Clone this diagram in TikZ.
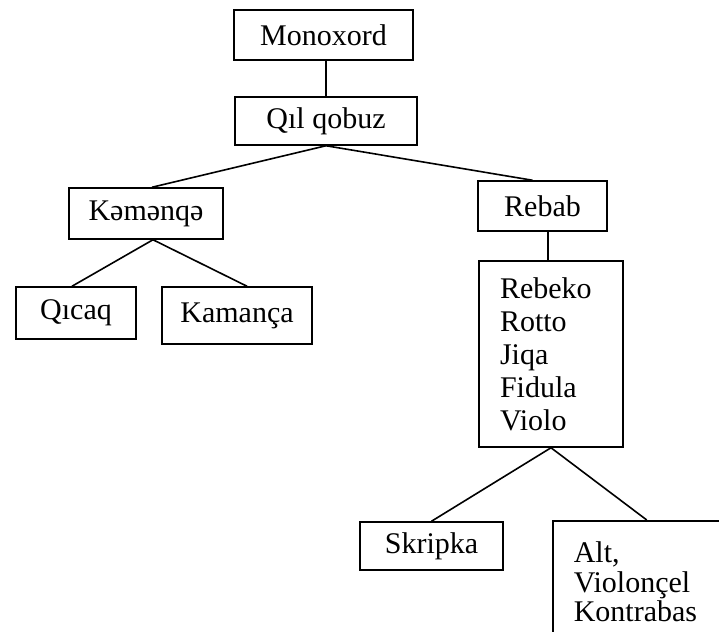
\documentclass[tikz,border=0pt]{standalone}
\usepackage{fontspec}
\setmainfont{Liberation Serif}

\begin{document}
\begin{tikzpicture}[x=1pt, y=-1pt,
    box/.style={draw, line width=1.5pt, inner sep=0pt, font=\fontsize{30}{33}\selectfont},
    link/.style={line width=1.6pt}]
  \clip (0,0) rectangle (719,631);
  % Top of the tree
  \node[box, minimum width=179pt, minimum height=50pt] (mono) at (323.5,35) {Monoxord};
  \node[box, minimum width=182pt, minimum height=48pt] (qil) at (326,121) {Qıl qobuz};
  % Second level
  \node[box, minimum width=154pt, minimum height=51pt] (kem) at (146,213.5) {Kəmənqə};
  \node[box, minimum width=129pt, minimum height=50pt] (rebab) at (542.5,206) {Rebab};
  % Left branch
  \node[box, minimum width=120pt, minimum height=52pt] (qicaq) at (76,313) {Qıcaq};
  \node[box, minimum width=150pt, minimum height=57pt] (kamanca) at (237,315.5) {Kamança};
  % Right branch
  \node[box, minimum width=144pt, minimum height=186pt, text width=102pt, align=left] (rebeko) at (551,354)
    {Rebeko\\Rotto\\Jiqa\\Fidula\\Violo};
  \node[box, minimum width=143pt, minimum height=48pt] (skripka) at (431.5,546) {Skripka};
  \node[box, anchor=north west, minimum width=188pt, minimum height=122pt, text width=146pt, align=left,
    font=\fontsize{30}{29.5}\selectfont] (alt) at (552,520) {Alt,\\Violonçel\\Kontrabas};
  % Connectors
  \draw[link] (qil.north) -- (qil.north |- mono.south);
  \draw[link] (qil.south) -- ([xshift=6pt]kem.north);
  \draw[link] (qil.south) -- ([xshift=-10pt]rebab.north);
  \draw[link] ([xshift=7pt]kem.south) -- ([xshift=-4pt]qicaq.north);
  \draw[link] ([xshift=7pt]kem.south) -- ([xshift=10pt]kamanca.north);
  \draw[link] ([xshift=-3pt]rebeko.north) -- ([xshift=-3pt]rebeko.north |- rebab.south);
  \draw[link] (rebeko.south) -- (skripka.north);
  \draw[link] (rebeko.south) -- (alt.north);
\end{tikzpicture}
\end{document}
